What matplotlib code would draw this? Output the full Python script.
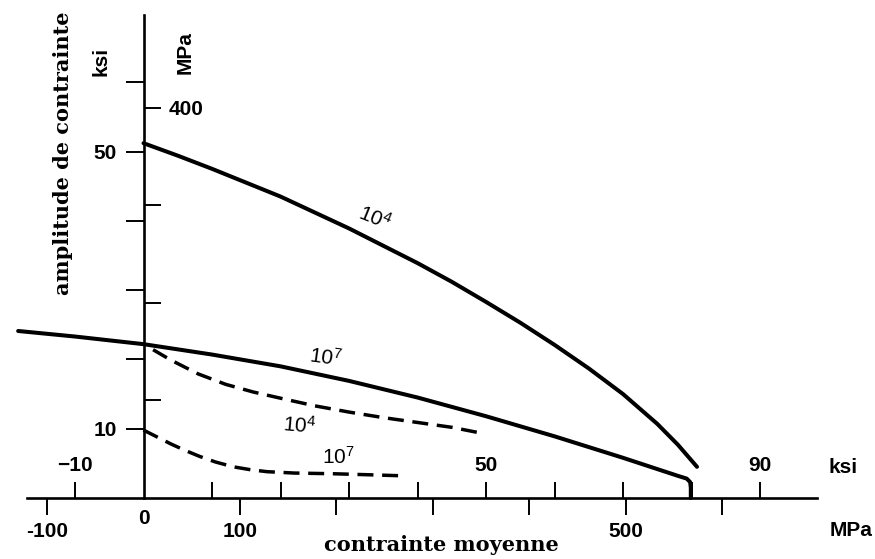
import matplotlib
matplotlib.use("Agg")
import matplotlib.pyplot as plt

plt.rcParams['font.family'] = ['Liberation Sans', 'DejaVu Sans']
plt.rcParams['mathtext.fontset'] = 'custom'
plt.rcParams['mathtext.rm'] = 'Liberation Sans'
plt.rcParams['mathtext.it'] = 'Liberation Sans:italic'

# echelle MPa / ksi telle que dessinee sur le diagramme
MPA_PER_KSI = 7.1

# courbes (contrainte moyenne ksi, amplitude ksi)
x_sol_1e4 = [0, 5, 10, 15, 20, 25, 30, 35, 40, 45, 50, 55, 60, 65, 70, 75, 78, 80.8]
y_sol_1e4 = [51.2, 49.4, 47.5, 45.5, 43.5, 41.2, 38.9, 36.4, 33.9, 31.2, 28.3,
             25.3, 22.1, 18.7, 15.0, 10.7, 7.7, 4.5]
x_sol_1e7 = [-18.3, -10, 0, 10, 20, 30, 40, 50, 60, 70, 78, 79.3, 79.8, 79.9, 79.9]
y_sol_1e7 = [24.1, 23.3, 22.2, 20.7, 19.0, 16.9, 14.5, 11.8, 8.9, 5.8, 3.2,
             2.8, 2.3, 1.5, 0]
x_dash_1e4 = [1.4, 4, 8, 12, 16, 20, 25, 30, 35, 40, 45, 49.1]
y_dash_1e4 = [21.4, 19.9, 17.9, 16.4, 15.3, 14.4, 13.3, 12.4, 11.6, 10.9, 10.2, 9.4]
x_dash_1e7 = [0, 2, 4, 6, 8.2, 10.5, 13.1, 15.5, 18, 22, 27.7, 33, 37.9]
y_dash_1e7 = [9.8, 8.8, 7.8, 6.9, 6.0, 5.2, 4.5, 4.1, 3.8, 3.6, 3.5, 3.35, 3.2]

ksi_x_ticks = [-10, 10, 20, 30, 40, 50, 60, 70, 80, 90]
ksi_x_labels = ['\u221210', '', '', '', '', '50', '', '', '', '90']
mpa_x_ticks = [-100, 0, 100, 200, 300, 400, 500, 600]
mpa_x_labels = ['-100', '', '100', '', '', '', '500', '']
ksi_y_ticks = [10, 20, 30, 40, 50, 60]
ksi_y_labels = ['10', '', '', '', '50', '']
mpa_y_ticks = [100, 200, 300, 400]
mpa_y_labels = ['', '', '', '400']

W, H = 875, 559
fig = plt.figure(figsize=(8.75, 5.59), dpi=100)
ax = fig.add_axes([0, 0, 1, 1])
axm = ax.twiny()
axy = ax.twinx()

xlim = (-143.5 / 6.85, (W - 143.5) / 6.85)
ylim = ((498 - H) / 6.93, 498 / 6.93)
ax.set_xlim(xlim)
ax.set_ylim(ylim)

lw_axis = 1.9
tick_kw = dict(width=1.4, labelsize=15, colors='black')

# axes ksi
ax.spines['bottom'].set_visible(False)
ax.spines['right'].set_visible(False)
ax.spines['left'].set_position(('data', 0))
ax.spines['top'].set_position(('data', 0))
ax.spines['left'].set_bounds(0, 69.7)
ax.spines['top'].set_bounds(-17, 98.3)
for s in ('left', 'top'):
    ax.spines[s].set_linewidth(lw_axis)
ax.xaxis.set_ticks_position('top')
ax.set_xticks(ksi_x_ticks)
ax.set_xticklabels(ksi_x_labels)
ax.tick_params(axis='x', direction='out', length=11.5, pad=5,
               labeltop=True, labelbottom=False, **tick_kw)
ax.yaxis.set_ticks_position('left')
ax.set_yticks(ksi_y_ticks)
ax.set_yticklabels(ksi_y_labels)
ax.tick_params(axis='y', direction='out', length=13, pad=6, **tick_kw)

# axe MPa horizontal
axm.set_xlim(xlim[0] * MPA_PER_KSI, xlim[1] * MPA_PER_KSI)
for s in axm.spines.values():
    s.set_visible(False)
axm.spines['bottom'].set_position(('data', 0))
axm.xaxis.set_ticks_position('bottom')
axm.set_xticks(mpa_x_ticks)
axm.set_xticklabels(mpa_x_labels)
axm.tick_params(axis='x', direction='out', length=12, pad=5,
                labelbottom=True, labeltop=False, **tick_kw)
axm.xaxis.get_major_ticks()[1].tick1line.set_visible(False)

# axe MPa vertical
axy.set_ylim(ylim[0] * MPA_PER_KSI, ylim[1] * MPA_PER_KSI)
for s in axy.spines.values():
    s.set_visible(False)
axy.spines['right'].set_position(('data', 0))
axy.yaxis.set_ticks_position('right')
axy.set_yticks(mpa_y_ticks)
axy.set_yticklabels(mpa_y_labels)
axy.tick_params(axis='y', direction='out', length=12, pad=6, **tick_kw)

for a in (ax, axm, axy):
    for lab in a.get_xticklabels() + a.get_yticklabels():
        lab.set_fontweight('bold')

# courbes
ax.plot(x_sol_1e4, y_sol_1e4, color='black', lw=2.9, solid_capstyle='round',
        solid_joinstyle='round')
ax.plot(x_sol_1e7, y_sol_1e7, color='black', lw=2.9, solid_capstyle='round',
        solid_joinstyle='round')
ax.plot(x_dash_1e4, y_dash_1e4, color='black', lw=2.5, ls=(0, (4.6, 2.5)))
ax.plot(x_dash_1e7, y_dash_1e7, color='black', lw=2.5, ls=(0, (4.6, 2.5)))

ax.text(33.8, 40.5, r'$\mathit{10^{4}}$', fontsize=15, rotation=-22,
        ha='center', va='center')
ax.text(26.6, 20.3, r'$\mathit{10^{7}}$', fontsize=15, rotation=-8,
        ha='center', va='center')
ax.text(22.8, 10.5, r'$\mathit{10^{4}}$', fontsize=15, rotation=-5,
        ha='center', va='center')
ax.text(28.5, 5.9, r'$10^{7}$', fontsize=15, ha='center', va='center')

# unites et titres
def px(x, y):
    return x / W, 1 - y / H

unit_kw = dict(fontsize=15, fontweight='bold', ha='center', va='center',
               transform=ax.transAxes)
ax.text(*px(144, 518.5), '0', **unit_kw)
ax.text(*px(843.5, 467.5), 'ksi', **unit_kw)
ax.text(*px(851, 531), 'MPa', **unit_kw)
ax.text(*px(101, 61.7), 'ksi', rotation=90, **unit_kw)
ax.text(*px(185, 52.5), 'MPa', rotation=90, **unit_kw)
ax.text(*px(63, 153), 'amplitude de contrainte', fontsize=15,
        fontweight='bold', family='DejaVu Serif', rotation=90,
        ha='center', va='center', transform=ax.transAxes)
ax.text(*px(441, 545), 'contrainte moyenne', fontsize=15,
        fontweight='bold', family='DejaVu Serif', ha='center',
        va='center', transform=ax.transAxes)

fig.savefig('out.png', dpi=100)
